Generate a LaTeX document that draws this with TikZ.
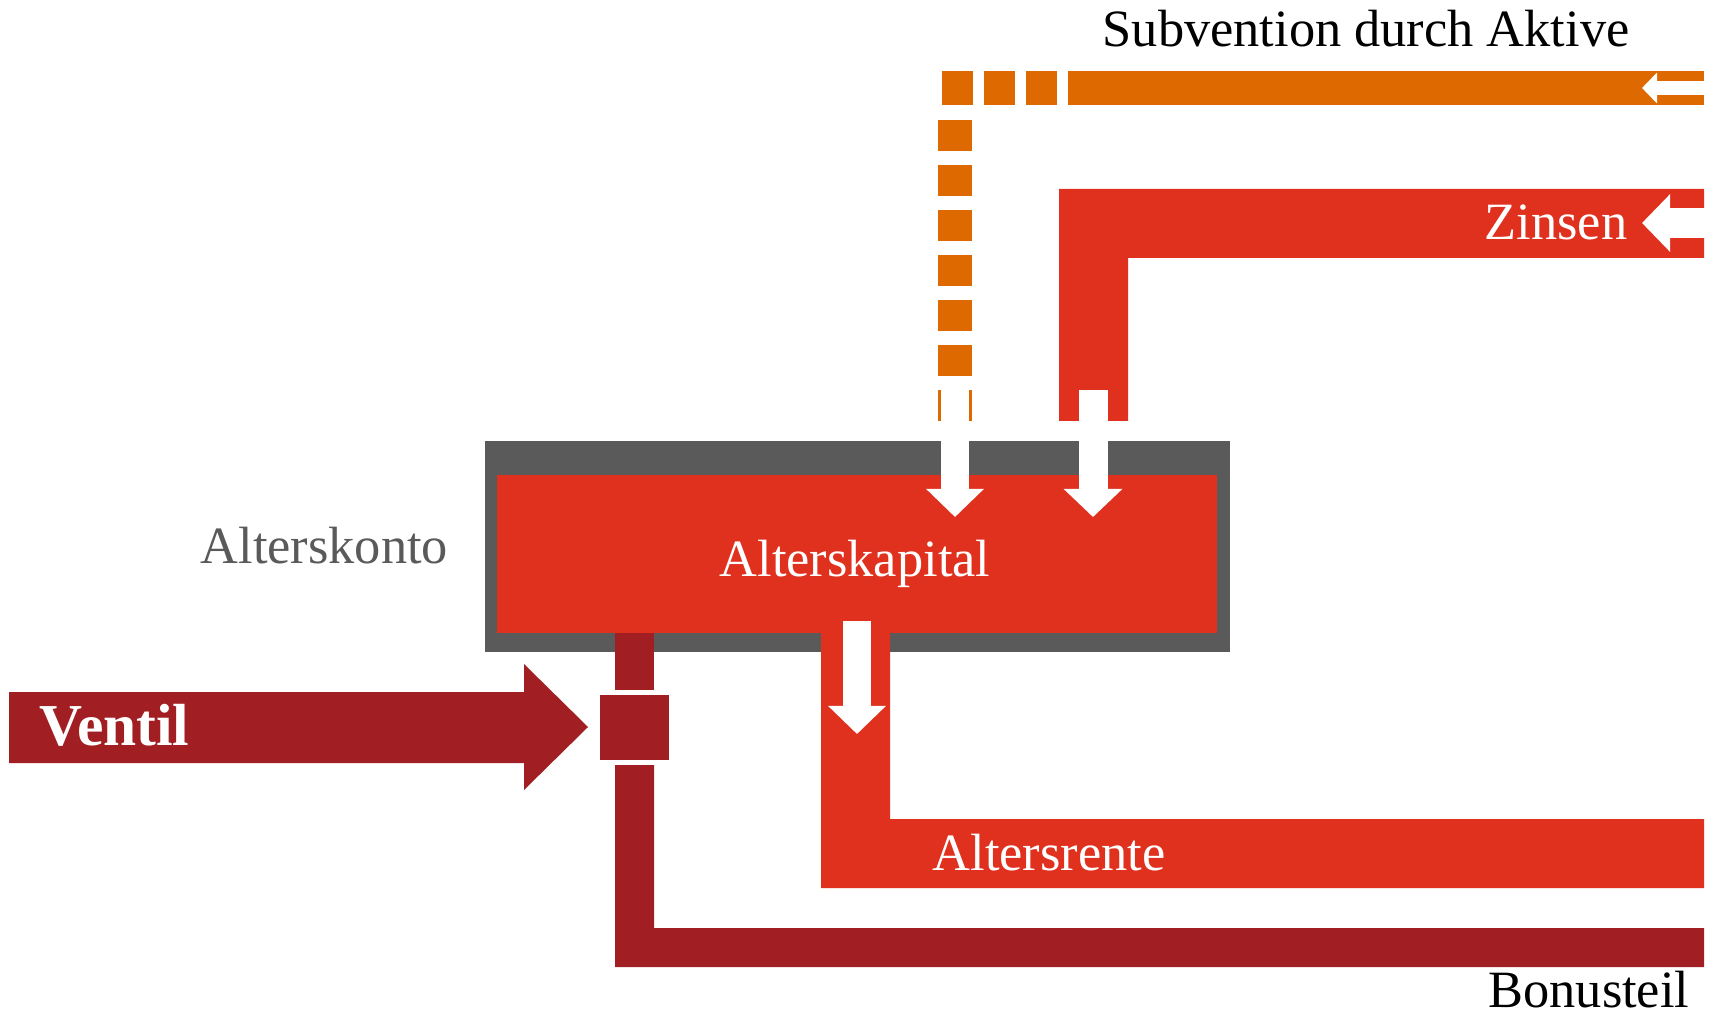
\documentclass[tikz,border=0pt]{standalone}
\usepackage{fontspec}
\setmainfont{Liberation Serif}
\usetikzlibrary{arrows.meta}

\definecolor{subvorange}{HTML}{DD6900}
\definecolor{kapitalred}{HTML}{E0311F}
\definecolor{bonusred}{HTML}{A11F22}
\definecolor{kontogray}{HTML}{5A5A5A}

\tikzset{
  lbl/.style={font=\fontsize{14.9}{18}\selectfont, inner sep=0pt, anchor=base west},
  flowarrow/.style={draw=white, line width=#1},
}

\begin{document}
\begin{tikzpicture}[x=0.01cm, y=-0.01cm]
        \useasboundingbox (0,0) rectangle (1713,1016);

        % Alterskonto box
        \fill[kontogray] (485,441) rectangle (1230,652);
        \fill[kapitalred] (497,475) rectangle (1217,633);

        % Zinsen band
        \fill[kapitalred] (1704,189) -- (1059,189) -- (1059,421) -- (1128,421) -- (1128,258) -- (1704,258) -- cycle;

        % Subvention band (dashed part and solid part)
        \fill[subvorange] (1068,71) rectangle (1704,105);
        \foreach \x in {942,984,1026}
            \fill[subvorange] (\x,71) rectangle ++(31,34);
        \foreach \y in {120,165,...,390}
            \fill[subvorange] (938,\y) rectangle ++(34,31);

        % Altersrente band
        \fill[kapitalred] (821,633) -- (821,888) -- (1704,888) -- (1704,819) -- (890,819) -- (890,633) -- cycle;

        % Bonusteil band with valve
        \fill[bonusred] (615,633) rectangle (654,690);
        \fill[bonusred, draw=white, line width=0.6pt] (599,694) rectangle (670,761);
        \fill[bonusred] (615,765) -- (615,967) -- (1704,967) -- (1704,928) -- (654,928) -- (654,765) -- cycle;

        % Ventil arrow
        \fill[bonusred] (9,692) -- (524,692) -- (524,664) -- (588,727) -- (524,790) -- (524,763) -- (9,763) -- cycle;

        % White flow arrows
        \draw[flowarrow=0.14cm, -{Triangle[width=0.30cm, length=0.15cm]}] (1705,88) -- (1642,88);
        \draw[flowarrow=0.30cm, -{Triangle[width=0.56cm, length=0.28cm]}] (1705,223) -- (1642,223);
        \draw[flowarrow=0.28cm, -{Triangle[width=0.56cm, length=0.28cm]}] (955,390) -- (955,517);
        \draw[flowarrow=0.29cm, -{Triangle[width=0.57cm, length=0.28cm]}] (1093,390) -- (1093,517);
        \draw[flowarrow=0.28cm, -{Triangle[width=0.56cm, length=0.28cm]}] (857,621) -- (857,734);

        % Labels
        \node[lbl] (subvention) at (1102,47) {Subvention durch Aktive};
        \node[lbl, text=white] (zinsen) at (1484,240) {Zinsen};
        \node[lbl, text=kontogray] (alterskonto) at (200,563) {Alterskonto};
        \node[lbl, text=white] (alterskapital) at (719,576) {Alterskapital};
        \node[lbl, text=white] (altersrente) at (932,870) {Altersrente};
        \node[lbl, anchor=base east] (bonusteil) at (1690,1007) {Bonusteil};
        \node[lbl, text=white, font=\fontsize{16.9}{20}\selectfont\bfseries] (ventil) at (39,745) {Ventil};
    \end{tikzpicture}
\end{document}
